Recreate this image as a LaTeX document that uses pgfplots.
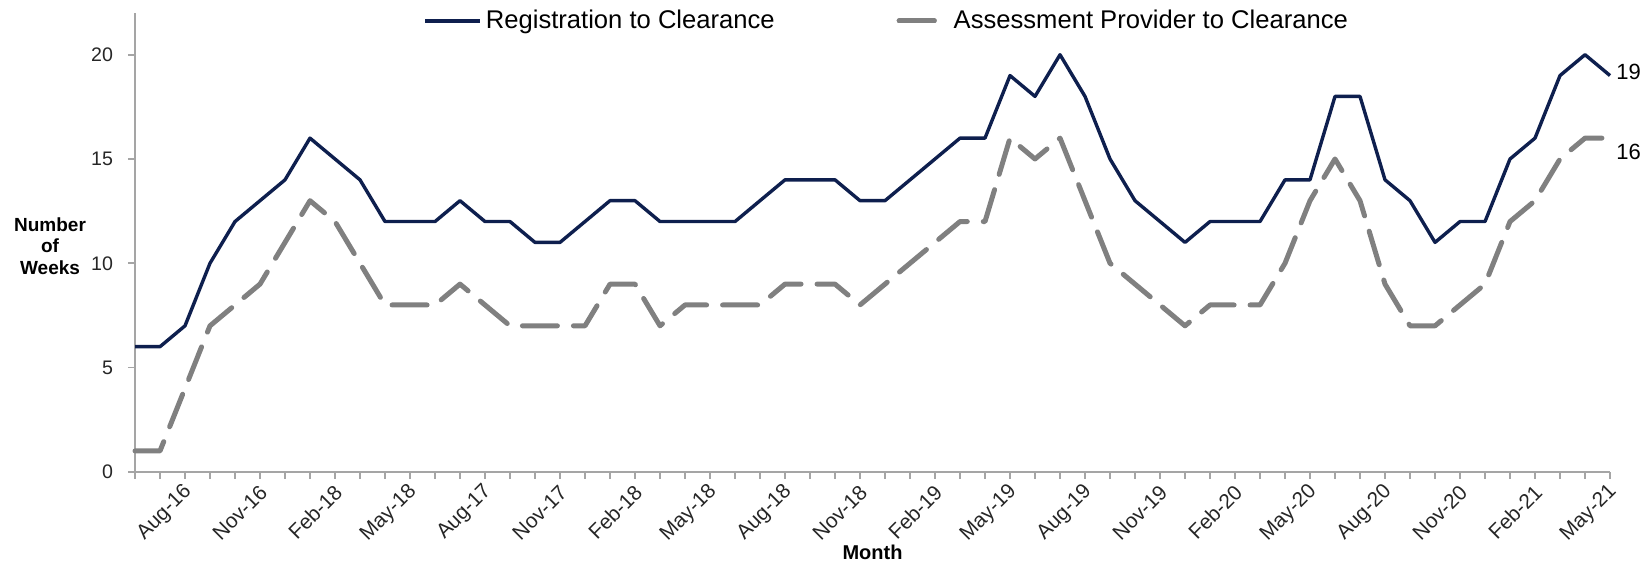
\documentclass[border=0pt]{standalone}
\usepackage{fontspec}
\setmainfont{Liberation Sans}
\usepackage{pgfplots}
\pgfplotsset{compat=1.18}
\usepackage{pgfplotstable}
\definecolor{navy}{RGB}{14,31,78}
\definecolor{dgray}{RGB}{128,128,128}
\definecolor{axgray}{RGB}{165,165,165}

\pgfplotstableread{
i reg ap
0 6 1
1 6 1
2 7 4
3 10 7
4 12 8
5 13 9
6 14 11
7 16 13
8 15 12
9 14 10
10 12 8
11 12 8
12 12 8
13 13 9
14 12 8
15 12 7
16 11 7
17 11 7
18 12 7
19 13 9
20 13 9
21 12 7
22 12 8
23 12 8
24 12 8
25 13 8
26 14 9
27 14 9
28 14 9
29 13 8
30 13 9
31 14 10
32 15 11
33 16 12
34 16 12
35 19 16
36 18 15
37 20 16
38 18 13
39 15 10
40 13 9
41 12 8
42 11 7
43 12 8
44 12 8
45 12 8
46 14 10
47 14 13
48 18 15
49 18 13
50 14 9
51 13 7
52 11 7
53 12 8
54 12 9
55 15 12
56 16 13
57 19 15
58 20 16
59 19 16
}\data

\begin{document}
\begin{tikzpicture}
\useasboundingbox (0,0) rectangle (823.5pt,281.5pt);
\begin{axis}[
  at={(67.5pt,45.6pt)}, anchor=south west,
  width=737.5pt, height=229.4pt, scale only axis,
  xmin=0, xmax=59, ymin=0, ymax=22,
  clip=false,
  axis lines=left,
  x axis line style={-},
  y axis line style={-},
  axis line style={axgray, line width=0.8pt},
  ytick={0,5,10,15,20},
  xtick={2,5,...,59},
  xticklabels={Aug-16,Nov-16,Feb-18,May-18,Aug-17,Nov-17,Feb-18,May-18,Aug-18,Nov-18,Feb-19,May-19,Aug-19,Nov-19,Feb-20,May-20,Aug-20,Nov-20,Feb-21,May-21},
  minor xtick={0,...,59},
  tick align=outside,
  major tick length=3.5pt, minor tick length=3.5pt,
  every tick/.style={axgray, line width=0.8pt},
  minor tick style={axgray, line width=0.8pt},
  major tick style={axgray, line width=0.8pt},
  xticklabel style={rotate=45, anchor=east, inner sep=1pt, xshift=-1.2pt, yshift=-4.8pt, font=\fontsize{10.4}{12}\selectfont, text=black!85},
  yticklabel style={font=\fontsize{9.8}{11}\selectfont, text=black!85, xshift=-4pt},
  /pgf/number format/assume math mode=true,
  ylabel={Number\\of\\Weeks},
  ylabel style={align=center, rotate=-90, at={(axis description cs:-0.0576,0.492)}, anchor=center, font=\fontsize{9.5}{10.8}\selectfont\bfseries},
  xlabel={Month},
  xlabel style={at={(axis description cs:0.5,-0.176)}, anchor=center, font=\fontsize{10}{12}\selectfont\bfseries},
  legend columns=2,
  legend style={draw=none, fill=none, at={(0.1953,0.9826)}, anchor=west, inner sep=0pt,
    font=\fontsize{12.8}{14}\selectfont,
    /tikz/every even column/.append style={column sep=59pt}},
  legend cell align=left,
]
\addplot[navy, line width=1.7pt, line join=round,
  legend image code/.code={\draw[navy, line width=1.7pt] (0pt,0pt) -- (27.5pt,0pt);}]
  table[x=i, y=reg] {\data};
\addlegendentry{Registration to Clearance}
\addplot[dgray, line width=2.5pt, line join=round, line cap=round, dash pattern=on 17.5pt off 8pt,
  legend image code/.code={\draw[dgray, line width=2.5pt, line cap=round] (0pt,0pt) -- (19pt,0pt); \path (0pt,0pt) -- (24pt,0pt);}]
  table[x=i, y=ap] {\data};
\addlegendentry{Assessment Provider to Clearance}
\node[anchor=west, inner sep=0pt, xshift=3pt, yshift=1.7pt, font=\fontsize{11}{12}\selectfont] at (axis cs:59,19) {19};
\node[anchor=west, inner sep=0pt, xshift=3pt, yshift=-7pt, font=\fontsize{11}{12}\selectfont] at (axis cs:59,16) {16};
\end{axis}
\end{tikzpicture}
\end{document}
